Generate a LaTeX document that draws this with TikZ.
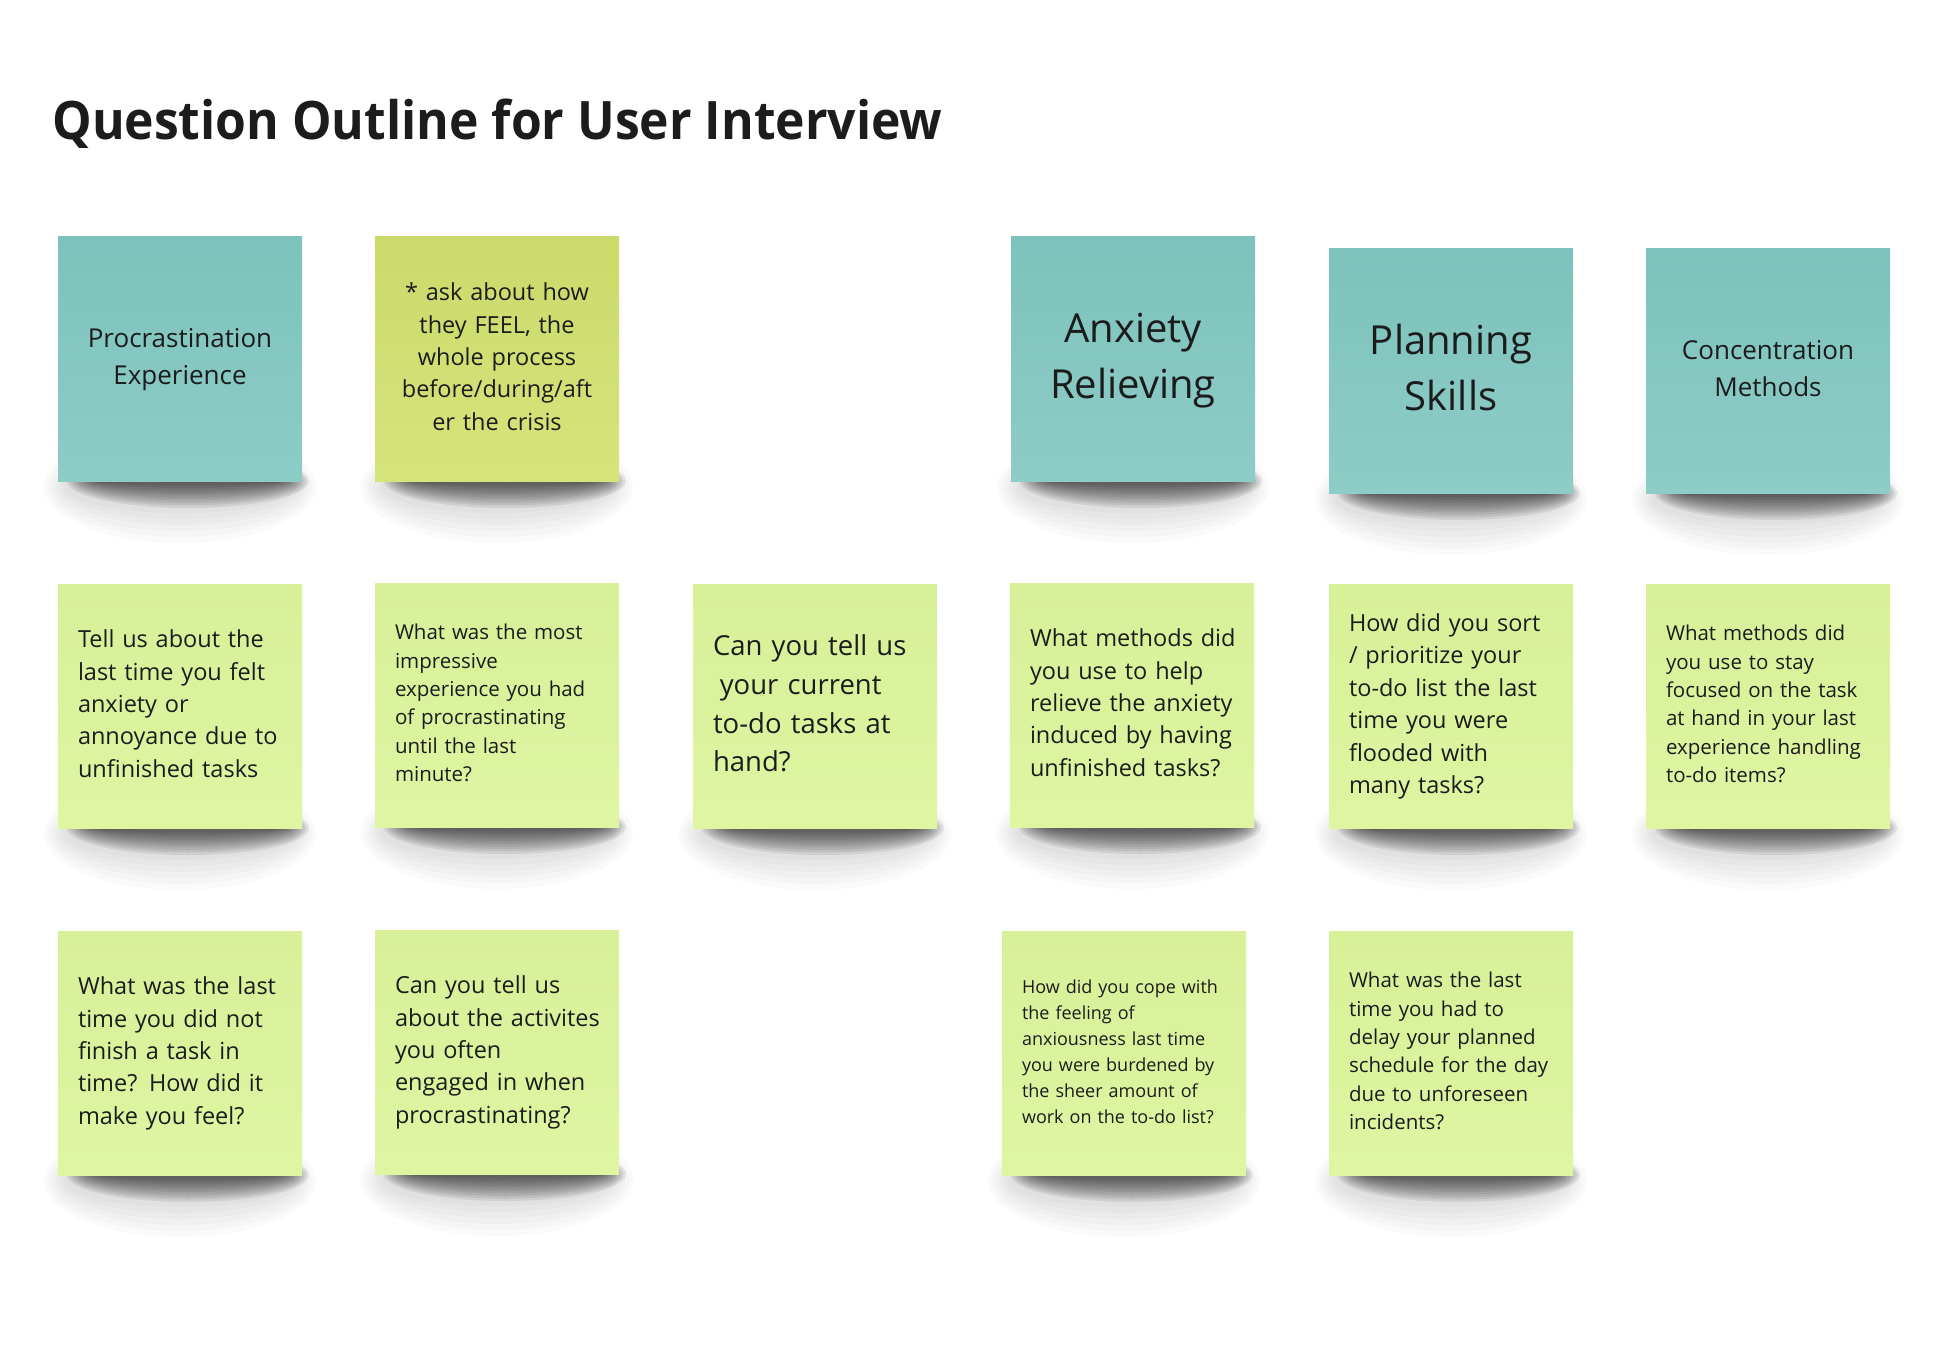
\documentclass[tikz,border=0pt]{standalone}
\usepackage{fontspec}
\usepackage{graphicx}
\setmainfont{Open Sans}
\pgfdeclarelayer{bg}
\pgfsetlayers{bg,main}
\definecolor{teal1}{RGB}{125,194,188}
\definecolor{teal2}{RGB}{142,204,198}
\definecolor{lg1}{RGB}{216,240,152}
\definecolor{lg2}{RGB}{223,245,162}
\definecolor{ol1}{RGB}{203,218,106}
\definecolor{ol2}{RGB}{214,228,124}
\definecolor{ink}{RGB}{28,28,28}
\newcommand\ntl[1]{\begin{tabular}{@{}l@{}}#1\end{tabular}}
\newcommand\ntc[1]{\begin{tabular}{@{}c@{}}#1\end{tabular}}
\newcommand\notesh[1]{%
  \begin{pgfonlayer}{bg}
  \foreach \i in {0,...,5}{%
    \pgfmathsetmacro\rx{136-4*\i}\pgfmathsetmacro\ry{56-6*\i}%
    \fill[black, opacity=0.02] ([yshift=-3pt]#1.south) ellipse [x radius=\rx, y radius=\ry];}
  \foreach \i in {0,...,9}{%
    \pgfmathsetmacro\rx{121-3*\i}\pgfmathsetmacro\ry{27-2.5*\i}%
    \fill[black, opacity=0.08] ([xshift=4pt]#1.south) ellipse [x radius=\rx, y radius=\ry];}
  \end{pgfonlayer}}
\tikzset{
  note/.style={minimum width=122pt, minimum height=122pt, inner xsep=10pt, inner ysep=0pt,
    text width=102pt, text=ink, outer sep=0pt},
  tealnote/.style={note, top color=teal1, bottom color=teal2, align=center},
  greennote/.style={note, top color=lg1, bottom color=lg2, align=left},
  olivenote/.style={note, top color=ol1, bottom color=ol2, align=center},
  fA/.style={font=\fontsize{13}{18.5}\selectfont},
  fB/.style={font=\fontsize{11.75}{16.2}\selectfont},
  fC/.style={font=\fontsize{20}{28}\selectfont},
  fD/.style={font=\fontsize{10.25}{14.2}\selectfont},
  fE/.style={font=\fontsize{13.75}{19.3}\selectfont},
  fF/.style={font=\fontsize{9}{13}\selectfont},
}
\begin{document}
\begin{tikzpicture}[x=0.5pt,y=-0.5pt]
\useasboundingbox (0,0) rectangle (1950,1364);
\begin{pgfonlayer}{bg}
\fill[white] (0,0) rectangle (1950,1364);
\end{pgfonlayer}
\node[anchor=base west, inner sep=0pt, text=ink, font=\fontsize{26.5}{32}\selectfont\bfseries] (title) at (52,140) {\scalebox{0.94}[1]{Question Outline for User Interview}};

\node[tealnote, fA] (n1) at (180,359) {\ntc{Procrastination\\Experience}};
\node[olivenote, fB] (n2) at (497,359) {\ntc{* ask about how\\they FEEL, the\\whole process\\before/during/aft\\er the crisis}};
\node[tealnote, fC] (n3) at (1133,359) {\ntc{Anxiety\\Relieving}};
\node[tealnote, fC] (n4) at (1451,371) {\ntc{Planning\\Skills}};
\node[tealnote, fA] (n5) at (1768,371) {\ntc{Concentration\\Methods}};

\node[greennote, fB] (n6) at (180,706) {\ntl{Tell us about the\\last time you felt\\anxiety or\\annoyance due to\\unfinished tasks}};
\node[greennote, fD] (n7) at (497,705) {\ntl{What was the most\\impressive\\experience you had\\of procrastinating\\until the last\\minute?}};
\node[greennote, fE] (n8) at (815,706) {\ntl{Can you tell us\\\hspace*{.25em}your current\\to-do tasks at\\hand?}};
\node[greennote, fB] (n9) at (1132,705) {\ntl{What methods did\\you use to help\\relieve the anxiety\\induced by having\\unfinished tasks?}};
\node[greennote, fB] (n10) at (1451,706) {\ntl{How did you sort\\/ prioritize your\\to-do list the last\\time you were\\flooded with\\many tasks?}};
\node[greennote, fD] (n11) at (1768,706) {\ntl{What methods did\\you use to stay\\focused on the task\\at hand in your last\\experience handling\\to-do items?}};

\node[greennote, fB] (n12) at (180,1053) {\ntl{What was the last\\time you did not\\finish a task in\\time? How did it\\make you feel?}};
\node[greennote, fB] (n13) at (497,1052) {\ntl{Can you tell us\\about the activites\\you often\\engaged in when\\procrastinating?}};
\node[greennote, fF] (n14) at (1124,1053) {\ntl{How did you cope with\\the feeling of\\anxiousness last time\\you were burdened by\\the sheer amount of\\work on the to-do list?}};
\node[greennote, fD] (n15) at (1451,1053) {\ntl{What was the last\\time you had to\\delay your planned\\schedule for the day\\due to unforeseen\\incidents?}};

\notesh{n1}\notesh{n2}\notesh{n3}\notesh{n4}\notesh{n5}
\notesh{n6}\notesh{n7}\notesh{n8}\notesh{n9}\notesh{n10}\notesh{n11}
\notesh{n12}\notesh{n13}\notesh{n14}\notesh{n15}
\end{tikzpicture}
\end{document}
